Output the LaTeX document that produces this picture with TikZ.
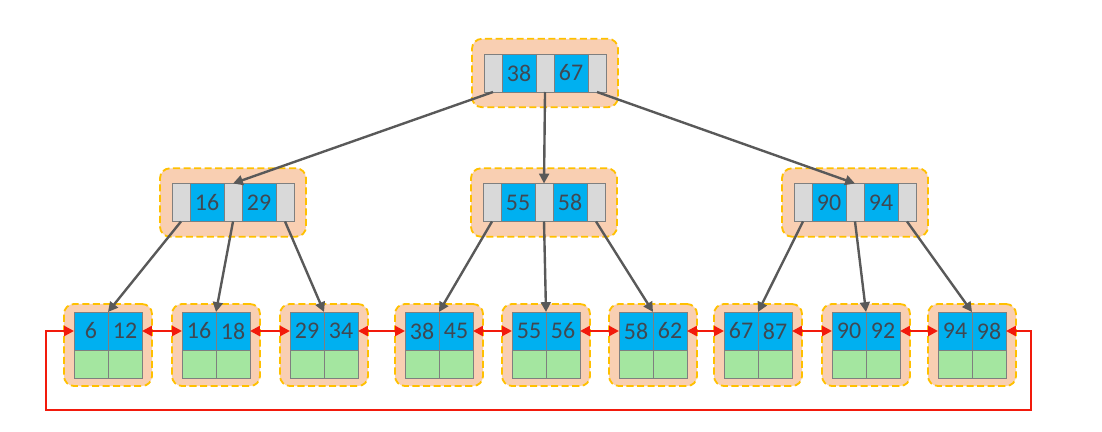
\documentclass[tikz,border=0pt]{standalone}
\usepackage{fontspec}
\setmainfont{Carlito}
\usepackage{tikz}
\usetikzlibrary{positioning,fit,backgrounds,arrows.meta}
\definecolor{keyblue}{HTML}{00B0F0}
\definecolor{ptrgray}{HTML}{D9D9D9}
\definecolor{datagreen}{HTML}{A4E6A0}
\definecolor{cellline}{HTML}{7F7F7F}
\definecolor{keytext}{HTML}{404852}
\definecolor{pagefill}{HTML}{F9CFB2}
\definecolor{pageline}{HTML}{FFC000}
\definecolor{linkgray}{HTML}{595959}
\definecolor{chainred}{HTML}{F21A0C}

\begin{document}
\begin{tikzpicture}[x = 0.025cm, y = -0.025cm,
    every node/.style = { draw = cellline, line width = 0.6pt, inner sep = 0, outer sep = 0,
      minimum height = 0.95cm, font = \fontsize{17}{20}\selectfont, text = keytext },
    key/.style = { fill = keyblue, minimum width = 0.85cm },
    ptr/.style = { fill = ptrgray, minimum width = 0.45cm },
    data/.style = { fill = datagreen, minimum width = 0.85cm, minimum height = 0.7cm },
    page/.style = { fill = pagefill, draw = pageline, dash pattern = on 5pt off 2.5pt,
      line width = 1.3pt, rounded corners = 0.25cm, inner xsep = 0.3cm, inner ysep = 0.38cm },
    link/.style = { draw = linkgray, line width = 1.7pt, -{Triangle[length = 7pt, width = 7pt]} },
    chain/.style = { draw = chainred, line width = 1.8pt,
      {Triangle[length = 7pt, width = 7pt]}-{Triangle[length = 7pt, width = 7pt]} }]
  \useasboundingbox (0,0) rectangle (1102,432);

  \node [ptr] (r0) at (493,73) {};
  \node [key, right = 0pt of r0] (r1) {38};
  \node [ptr, right = 0pt of r1] (r2) {};
  \node [key, right = 0pt of r2] (r3) {67};
  \node [ptr, right = 0pt of r3] (r4) {};
  \begin{scope}[on background layer]
    \node [page, fit = (r0) (r4)] (root) {};
  \end{scope}

  \foreach \n/\x/\a/\b in {ml/181/16/29, mc/492/55/58, mr/803/90/94} {
    \node [ptr] (\n0) at (\x,202.5) {};
    \node [key, right = 0pt of \n0] (\n1) {\a};
    \node [ptr, right = 0pt of \n1] (\n2) {};
    \node [key, right = 0pt of \n2] (\n3) {\b};
    \node [ptr, right = 0pt of \n3] (\n4) {};
    \begin{scope}[on background layer]
      \node [page, fit = (\n0) (\n4)] (\n) {};
    \end{scope}
  }

  \foreach \x/\a/\b [count = \i] in {74/6/12, 182/16/18, 290/29/34, 405/38/45, 512/55/56,
      619/58/62, 724/67/87, 832/90/92, 938/94/98} {
    \node [key] (l\i-a) at (\x+17,331) {\a};
    \node [key, right = 0pt of l\i-a] (l\i-b) {\b};
    \node [data, below = 0pt of l\i-a] (l\i-c) {};
    \node [data, below = 0pt of l\i-b] (l\i-d) {};
    \begin{scope}[on background layer]
      \node [page, inner xsep = 0.25cm, inner ysep = 0.2cm, fit = (l\i-a) (l\i-d)] (leaf\i) {};
    \end{scope}
  }

  \draw [link] (r0.south) -- (ml2.north);
  \draw [link] (r2.south) -- (mc2.north);
  \draw [link] (r4.south) -- (mr2.north);
  \foreach \n/\i/\j/\k in {ml/1/2/3, mc/4/5/6, mr/7/8/9} {
    \draw [link] (\n0.south) -- (l\i-a.north east);
    \draw [link] (\n2.south) -- (l\j-a.north east);
    \draw [link] (\n4.south) -- (l\k-a.north east);
  }

  \foreach \i [evaluate = \i as \j using int(\i+1)] in {1,...,8}
    \draw [chain] (l\i-b.east) -- (l\j-a.west);
  \coordinate (loopr) at (1031,410);
  \coordinate (loopl) at (46,410);
  \draw [chain] (l9-b.east) -| (loopr) -- (loopl) |- (l1-a.west);
\end{tikzpicture}
\end{document}
